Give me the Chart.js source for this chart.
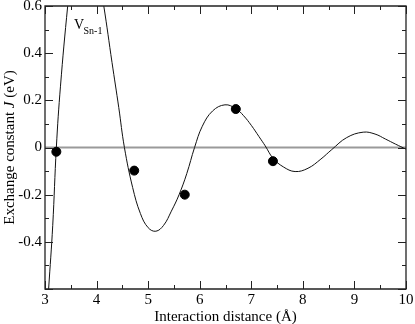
<!DOCTYPE html>
<html>
<head>
<meta charset="utf-8">
<script src="https://cdn.jsdelivr.net/npm/chart.js@4.4.1/dist/chart.umd.min.js"></script>
<style>
  html, body { margin: 0; padding: 0; background: #fff; }
  #wrap { width: 415px; height: 324px; }
</style>
</head>
<body>
<div id="wrap"><canvas id="chart" width="415" height="324"></canvas></div>
<script>
// fitted curve
const curveX = [3.04, 3.07, 3.15, 3.22, 3.30, 3.44, 3.55, 3.70, 3.85, 4.00, 4.14, 4.30, 4.43, 4.54, 4.70, 4.85, 5.00, 5.15, 5.30, 5.45, 5.60, 5.75, 5.90, 6.05, 6.25, 6.49, 6.70, 6.85, 7.00, 7.15, 7.27, 7.42, 7.62, 7.85, 8.10, 8.35, 8.56, 8.85, 9.17, 9.40, 9.60, 9.80, 10.0];
const curveJ = [-0.70, -0.60, -0.33, 0.00, 0.26, 0.60, 0.82, 0.95, 0.92, 0.78, 0.60, 0.36, 0.17, 0.00, -0.17, -0.28, -0.34, -0.355, -0.33, -0.27, -0.20, -0.11, 0.00, 0.09, 0.155, 0.181, 0.165, 0.135, 0.094, 0.046, 0.007, -0.045, -0.082, -0.102, -0.088, -0.049, -0.009, 0.042, 0.065, 0.057, 0.036, 0.014, -0.007];

// calculated values (dots)
const pointX = [3.22, 4.73, 5.71, 6.70, 7.42];
const pointJ = [-0.018, -0.098, -0.20, 0.163, -0.058];

const xTicks = [3, 4, 5, 6, 7, 8, 9, 10];
const xMinor = [3.5, 4.5, 5.5, 6.5, 7.5, 8.5, 9.5];
const yTicks = [-0.6, -0.4, -0.2, 0, 0.2, 0.4, 0.6];
const yLabels = ['', '-0.4', '-0.2', '0', '0.2', '0.4', '0.6'];
const yMinor = [-0.5, -0.3, -0.1, 0.1, 0.3, 0.5];

const SERIF = '"Liberation Serif", "DejaVu Serif", serif';

function toXY(xs, ys) {
  return xs.map((x, i) => ({ x: x, y: ys[i] }));
}

// frame, inward ticks, labels and titles
const axesPlugin = {
  id: 'axesPlugin',
  afterDraw(chart) {
    const ctx = chart.ctx;
    const a = chart.chartArea;
    const xs = chart.scales.x;
    const ys = chart.scales.y;
    ctx.save();

    ctx.strokeStyle = '#222';
    ctx.lineWidth = 1.3;
    ctx.beginPath();
    ctx.rect(a.left, a.top, a.right - a.left, a.bottom - a.top);
    ctx.stroke();

    ctx.lineWidth = 1;
    ctx.beginPath();
    function xt(v, len) {
      const p = Math.round(xs.getPixelForValue(v)) + 0.5;
      ctx.moveTo(p, a.bottom); ctx.lineTo(p, a.bottom - len);
      ctx.moveTo(p, a.top); ctx.lineTo(p, a.top + len);
    }
    function yt(v, len) {
      const p = Math.round(ys.getPixelForValue(v)) + 0.5;
      ctx.moveTo(a.left, p); ctx.lineTo(a.left + len, p);
      ctx.moveTo(a.right, p); ctx.lineTo(a.right - len, p);
    }
    xTicks.forEach(v => xt(v, 8));
    xMinor.forEach(v => xt(v, 4));
    yTicks.forEach(v => yt(v, 8));
    yMinor.forEach(v => yt(v, 4));
    ctx.stroke();

    ctx.fillStyle = '#000';
    ctx.font = '15px ' + SERIF;
    ctx.textAlign = 'center';
    ctx.textBaseline = 'top';
    xTicks.forEach(v => ctx.fillText(String(v), xs.getPixelForValue(v), a.bottom + 4));

    ctx.textAlign = 'right';
    ctx.textBaseline = 'middle';
    yTicks.forEach((v, i) => ctx.fillText(yLabels[i], a.left - 3, ys.getPixelForValue(v)));

    // x title
    ctx.textAlign = 'center';
    ctx.textBaseline = 'alphabetic';
    ctx.font = '15px ' + SERIF;
    ctx.fillText('Interaction distance (Å)', (a.left + a.right) / 2, 321);

    // y title with italic J
    const parts = [['Exchange constant ', '15px '], ['J', 'italic 15px '], [' (eV)', '15px ']];
    let total = 0;
    parts.forEach(p => { ctx.font = p[1] + SERIF; total += ctx.measureText(p[0]).width; });
    ctx.translate(13.5, (a.top + a.bottom) / 2);
    ctx.rotate(-Math.PI / 2);
    ctx.textAlign = 'left';
    let cx = -total / 2;
    parts.forEach(p => {
      ctx.font = p[1] + SERIF;
      ctx.fillText(p[0], cx, 0);
      cx += ctx.measureText(p[0]).width;
    });
    ctx.setTransform(1, 0, 0, 1, 0, 0);

    // V_Sn-1 label
    ctx.textAlign = 'left';
    ctx.textBaseline = 'alphabetic';
    ctx.font = '14px ' + SERIF;
    ctx.fillText('V', 74, 28.5);
    ctx.font = '10px ' + SERIF;
    ctx.fillText('Sn-1', 83.5, 33.5);

    ctx.restore();
  }
};

document.addEventListener('DOMContentLoaded', function() {
  const ctx = document.getElementById('chart').getContext('2d');

  const data = {
    datasets: [
      {
        type: 'scatter',
        label: 'points',
        data: toXY(pointX, pointJ),
        backgroundColor: '#000',
        borderColor: '#000',
        pointRadius: 4.5,
        pointHoverRadius: 4.5
      },
      {
        type: 'line',
        label: 'curve',
        data: toXY(curveX, curveJ),
        borderColor: '#111',
        borderWidth: 1,
        pointRadius: 0,
        fill: false,
        tension: 0.4
      },
      {
        type: 'line',
        label: 'zero',
        data: toXY([3, 10], [0, 0]),
        borderColor: '#9a9a9a',
        borderWidth: 2,
        pointRadius: 0,
        fill: false
      }
    ]
  };

  const options = {
    responsive: false,
    animation: false,
    events: [],
    layout: { padding: { left: 45, right: 9, top: 6, bottom: 35 } },
    plugins: {
      legend: { display: false },
      tooltip: { enabled: false },
      title: { display: false }
    },
    scales: {
      x: { type: 'linear', min: 3, max: 10, display: false },
      y: { type: 'linear', min: -0.6, max: 0.6, display: false }
    }
  };

  new Chart(ctx, { type: 'scatter', data: data, options: options, plugins: [axesPlugin] });
});
</script>
</body>
</html>
